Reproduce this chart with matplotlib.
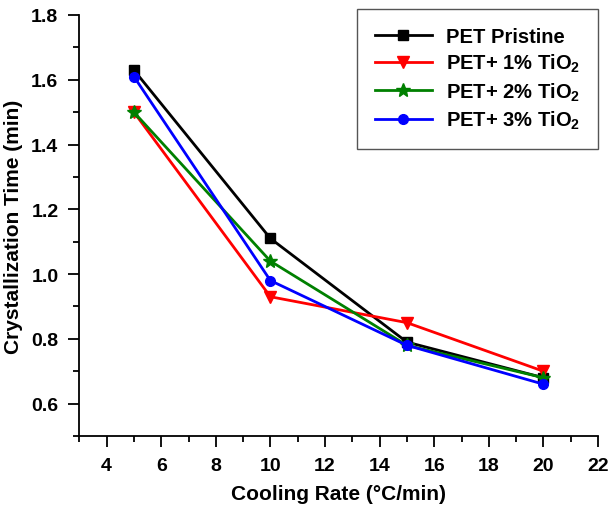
import matplotlib
matplotlib.use("Agg")
import matplotlib.pyplot as plt
from matplotlib.ticker import MultipleLocator

plt.rcParams['font.family'] = ['Liberation Sans', 'DejaVu Sans']
plt.rcParams['font.weight'] = 'bold'
plt.rcParams['mathtext.fontset'] = 'custom'
plt.rcParams['mathtext.rm'] = 'Liberation Sans:bold'
plt.rcParams['mathtext.bf'] = 'Liberation Sans:bold'
plt.rcParams['mathtext.default'] = 'bf'

# cooling rate (C/min)
rate = [5, 10, 15, 20]

# crystallization time (min)
pristine = [1.63, 1.11, 0.79, 0.68]
tio2_1 = [1.50, 0.93, 0.85, 0.70]
tio2_2 = [1.50, 1.04, 0.78, 0.68]
tio2_3 = [1.61, 0.98, 0.78, 0.66]

labels = ['PET Pristine', r'PET+ 1% TiO$_2$', r'PET+ 2% TiO$_2$', r'PET+ 3% TiO$_2$']

fig = plt.figure(figsize=(6.09, 5.10), dpi=100)
ax = fig.add_axes([79.3/609, 1 - 437/510, (598 - 79.3)/609, (437 - 16)/510])

ax.plot(rate, pristine, color='black', marker='s', ms=7, lw=2, label=labels[0])
ax.plot(rate, tio2_1, color='red', marker='v', ms=8, lw=2, label=labels[1])
ax.plot(rate, tio2_2, color='green', marker='*', ms=10, lw=2, label=labels[2])
ax.plot(rate, tio2_3, color='blue', marker='o', ms=7, lw=2, label=labels[3])

ax.set_xlim(3, 22)
ax.set_ylim(0.5, 1.8)
ax.xaxis.set_minor_locator(MultipleLocator(1))
ax.yaxis.set_minor_locator(MultipleLocator(0.1))
ax.set_xticks([4, 6, 8, 10, 12, 14, 16, 18, 20, 22])
ax.set_yticks([0.6, 0.8, 1.0, 1.2, 1.4, 1.6, 1.8])
ax.yaxis.set_major_formatter(matplotlib.ticker.FormatStrFormatter('%.1f'))

ax.spines['top'].set_visible(False)
ax.spines['right'].set_visible(False)
ax.spines['left'].set_linewidth(1.3)
ax.spines['bottom'].set_linewidth(1.3)
ax.tick_params(which='major', direction='out', length=8, width=1.3, labelsize=14, pad=7)
ax.tick_params(which='minor', direction='out', length=4, width=1.3)

ax.set_xlabel('Cooling Rate (°C/min)', fontsize=15, fontweight='bold', labelpad=7)
ax.set_ylabel('Crystallization Time (min)', fontsize=15, fontweight='bold', labelpad=6)

leg = ax.legend(loc='upper right', bbox_to_anchor=(598/609, 1 - 10/510),
                bbox_transform=fig.transFigure, fontsize=14.5, fancybox=False,
                edgecolor='#555555', framealpha=1, handlelength=2.8, borderpad=0.9,
                labelspacing=0.3, handletextpad=0.7, borderaxespad=0)
leg.get_frame().set_linewidth(1.0)

fig.savefig('out.png', dpi=100)
